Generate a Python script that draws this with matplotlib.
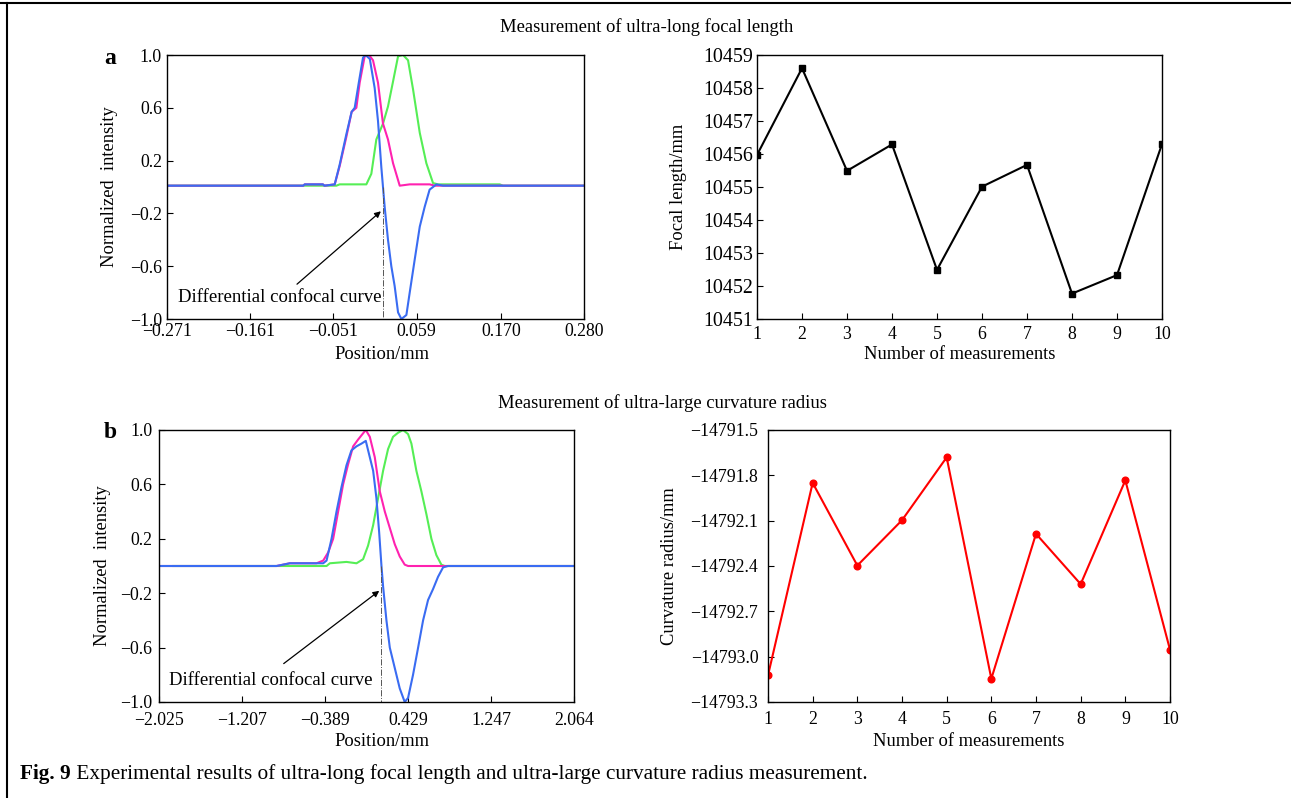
import matplotlib
matplotlib.use("Agg")
import matplotlib.pyplot as plt
from matplotlib.lines import Line2D
from matplotlib.text import Annotation

plt.rcParams['font.family'] = ['Liberation Serif', 'DejaVu Serif']
plt.rcParams['font.size'] = 13
plt.rcParams['axes.linewidth'] = 1.0

# --- (a) focal length: confocal scans across the focus ---
a_pre_x = [-0.271, -0.091, -0.089, -0.065, -0.063, -0.0494, -0.0428, -0.034, -0.027,
           -0.0208, -0.0164, -0.0098, -0.004, 0.0012, 0.0078, 0.0144, 0.021, 0.0277,
           0.0365, 0.0497, 0.076, 0.083, 0.280]
a_pre_y = [0.01, 0.01, 0.02, 0.02, 0.01, 0.02, 0.16, 0.38, 0.57,
           0.60, 0.79, 0.99, 1.00, 0.96, 0.79, 0.48, 0.36, 0.18,
           0.01, 0.02, 0.02, 0.01, 0.01]
a_post_x = [-0.271, -0.0472, -0.0428, -0.0076, -0.001, 0.0056, 0.0144, 0.021, 0.0277,
            0.0343, 0.0409, 0.0475, 0.0541, 0.063, 0.0717, 0.0805, 0.087, 0.1686,
            0.173, 0.280]
a_post_y = [0.01, 0.01, 0.02, 0.02, 0.10, 0.36, 0.48, 0.61, 0.80,
            0.99, 1.00, 0.96, 0.74, 0.41, 0.18, 0.03, 0.02, 0.02,
            0.01, 0.01]
a_diff_x = [-0.271, -0.091, -0.089, -0.065, -0.063, -0.0494, -0.0428, -0.034, -0.027,
            -0.023, -0.0173, -0.012, -0.0086, -0.003, 0.0034, 0.0078, 0.0122, 0.0144,
            0.0166, 0.021, 0.0254, 0.0298, 0.0343, 0.0387, 0.0453, 0.0497, 0.0563,
            0.063, 0.0695, 0.076, 0.085, 0.0937, 0.280]
a_diff_y = [0.01, 0.01, 0.02, 0.02, 0.01, 0.02, 0.17, 0.40, 0.57,
            0.60, 0.80, 0.98, 1.00, 0.97, 0.75, 0.50, 0.15, 0.00,
            -0.15, -0.40, -0.60, -0.75, -0.95, -1.00, -0.97, -0.80, -0.55,
            -0.30, -0.15, -0.02, 0.02, 0.01, 0.01]
a_zero = 0.0144
a_xticks = [-0.271, -0.161, -0.051, 0.059, 0.170, 0.280]
a_xlabels = ["\u22120.271", "\u22120.161", "\u22120.051", "0.059", "0.170", "0.280"]

# --- (b) curvature radius: confocal scans across the focus ---
b_pre_x = [-2.025, -0.867, -0.736, -0.473, -0.407, -0.358, -0.309, -0.26, -0.211,
           -0.161, -0.112, -0.063, -0.02, 0.0125, 0.052, 0.101, 0.15, 0.2, 0.249,
           0.298, 0.347, 0.396, 0.429, 2.064]
b_pre_y = [0.0, 0.0, 0.02, 0.02, 0.04, 0.10, 0.20, 0.40, 0.60,
           0.75, 0.88, 0.93, 0.97, 1.00, 0.95, 0.80, 0.55, 0.40, 0.28,
           0.16, 0.07, 0.01, 0.0, 0.0]
b_post_x = [-1.884, -0.867, -0.374, -0.342, -0.178, -0.079, -0.014, 0.035, 0.085,
            0.134, 0.183, 0.232, 0.281, 0.331, 0.38, 0.429, 0.462, 0.511, 0.56,
            0.61, 0.659, 0.708, 0.757, 0.79, 2.064]
b_post_y = [0.0, 0.0, 0.0, 0.02, 0.03, 0.02, 0.05, 0.15, 0.30,
            0.50, 0.70, 0.86, 0.95, 0.98, 1.00, 0.97, 0.90, 0.70, 0.55,
            0.38, 0.20, 0.08, 0.01, 0.0, 0.0]
b_diff_x = [-2.025, -0.867, -0.736, -0.473, -0.407, -0.374, -0.325, -0.276, -0.227,
            -0.178, -0.129, -0.079, -0.03, 0.0125, 0.052, 0.085, 0.117, 0.144,
            0.167, 0.183, 0.216, 0.249, 0.298, 0.347, 0.396, 0.429, 0.478, 0.528,
            0.577, 0.626, 0.675, 0.724, 0.774, 0.823, 2.064]
b_diff_y = [0.0, 0.0, 0.02, 0.02, 0.02, 0.04, 0.20, 0.40, 0.58,
            0.74, 0.85, 0.88, 0.90, 0.92, 0.80, 0.70, 0.50, 0.25,
            0.0, -0.15, -0.40, -0.60, -0.75, -0.90, -1.00, -0.97, -0.80, -0.60,
            -0.40, -0.25, -0.17, -0.08, -0.01, 0.0, 0.0]
b_zero = 0.167
b_xticks = [-2.025, -1.207, -0.389, 0.429, 1.247, 2.064]
b_xlabels = ["\u22122.025", "\u22121.207", "\u22120.389", "0.429", "1.247", "2.064"]

scan_yticks = [-1.0, -0.6, -0.2, 0.2, 0.6, 1.0]
scan_ylabels = ["\u22121.0", "\u22120.6", "\u22120.2", "0.2", "0.6", "1.0"]

# --- repeated measurements ---
runs = [1, 2, 3, 4, 5, 6, 7, 8, 9, 10]
focal_length = [10455.97, 10458.60, 10455.49, 10456.29, 10452.49,
                10455.01, 10455.67, 10451.77, 10452.33, 10456.30]
focal_yticks = [10451, 10452, 10453, 10454, 10455, 10456, 10457, 10458, 10459]
radius = [-14793.124, -14791.850, -14792.397, -14792.097, -14791.681,
          -14793.146, -14792.187, -14792.520, -14791.833, -14792.954]
radius_yticks = [-14793.3, -14793.0, -14792.7, -14792.4, -14792.1, -14791.8, -14791.5]
radius_ylabels = ["\u221214793.3", "\u221214793.0", "\u221214792.7", "\u221214792.4",
                  "\u221214792.1", "\u221214791.8", "\u221214791.5"]

MAGENTA = '#ff22b0'
GREEN = '#55ee55'
BLUE = '#3a6cf2'
TICK_FS = 12.8
LABEL_FS = 13.3

W, H = 1291, 798
fig = plt.figure(figsize=(W / 100, H / 100), dpi=100)


def box(l, t, r, b):
    return [l / W, 1 - b / H, (r - l) / W, (b - t) / H]


ax_a = fig.add_axes(box(167, 55, 584, 319))
ax_fl = fig.add_axes(box(757, 55, 1162, 319))
ax_b = fig.add_axes(box(159, 430, 574, 702))
ax_cr = fig.add_axes(box(768, 430, 1170, 702))

for ax in (ax_a, ax_fl, ax_b, ax_cr):
    ax.tick_params(direction='in', length=4, width=0.8, labelsize=TICK_FS)


def place_labels(ax, xlab, ylab, xpos, ypos):
    ax.set_xlabel(xlab, fontsize=LABEL_FS, va='center')
    ax.set_ylabel(ylab, fontsize=LABEL_FS, va='center')
    ax.xaxis.set_label_coords(*xpos)
    ax.yaxis.set_label_coords(*ypos)


def scan_panel(ax, pre, post, diff, zero, xticks, xlabels, arrow_tail, text_pos):
    ax.plot(post[0], post[1], color=GREEN, lw=1.5)
    ax.plot(pre[0], pre[1], color=MAGENTA, lw=1.5)
    ax.plot(diff[0], diff[1], color=BLUE, lw=1.5)
    ax.plot([zero, zero], [0.0, -1.0], color='#555555', lw=0.7, ls='-.')
    ax.annotate('', xy=(zero, -0.17), xytext=arrow_tail,
                arrowprops=dict(arrowstyle='-|>', color='black', lw=0.9,
                                mutation_scale=9))
    ax.text(text_pos[0], text_pos[1], 'Differential confocal curve', fontsize=13.5,
            va='center', ha='left')
    ax.set_xlim(xticks[0], xticks[-1])
    ax.set_ylim(-1.0, 1.0)
    ax.set_xticks(xticks)
    ax.set_xticklabels(xlabels)
    ax.set_yticks(scan_yticks)
    ax.set_yticklabels(scan_ylabels)


scan_panel(ax_a, (a_pre_x, a_pre_y), (a_post_x, a_post_y), (a_diff_x, a_diff_y),
           a_zero, a_xticks, a_xlabels, (-0.102, -0.75), (-0.2565, -0.84))
ax_a.tick_params(axis='x', pad=3.2)
ax_a.tick_params(axis='y', pad=3.6)
place_labels(ax_a, 'Position/mm', 'Normalized  intensity', (0.515, -0.136), (-0.137, 0.5))

scan_panel(ax_b, (b_pre_x, b_pre_y), (b_post_x, b_post_y), (b_diff_x, b_diff_y),
           b_zero, b_xticks, b_xlabels, (-0.818, -0.73), (-1.927, -0.84))
ax_b.tick_params(axis='x', pad=7)
ax_b.tick_params(axis='y', pad=5)
place_labels(ax_b, 'Position/mm', 'Normalized  intensity', (0.537, -0.147), (-0.137, 0.5))

ax_fl.plot(runs, focal_length, color='black', lw=1.5, marker='s', ms=4.2)
ax_fl.set_xlim(1, 10)
ax_fl.set_ylim(10451, 10459)
ax_fl.set_xticks(runs)
ax_fl.set_yticks(focal_yticks)
ax_fl.set_yticklabels([str(v) for v in focal_yticks])
ax_fl.tick_params(axis='x', pad=5)
ax_fl.tick_params(axis='y', pad=3, labelsize=14.4)
place_labels(ax_fl, 'Number of measurements', 'Focal length/mm', (0.5, -0.136), (-0.195, 0.5))

ax_cr.plot(runs, radius, color='#ff0000', lw=1.5, marker='o', ms=4.8)
ax_cr.set_xlim(1, 10)
ax_cr.set_ylim(-14793.3, -14791.5)
ax_cr.set_xticks(runs)
ax_cr.set_yticks(radius_yticks)
ax_cr.set_yticklabels(radius_ylabels)
ax_cr.tick_params(axis='x', pad=6.5)
ax_cr.tick_params(axis='y', pad=7)
place_labels(ax_cr, 'Number of measurements', 'Curvature radius/mm', (0.5, -0.147), (-0.244, 0.5))

# section headings and panel letters
fig.text(647 / W, 1 - 27 / H, 'Measurement of ultra-long focal length',
         ha='center', va='center', fontsize=13.4)
fig.text(662 / W, 1 - 403 / H, 'Measurement of ultra-large curvature radius',
         ha='center', va='center', fontsize=13.4)
fig.text(110 / W, 1 - 58 / H, 'a', ha='center', va='center', fontsize=17,
         fontweight='bold')
fig.text(110 / W, 1 - 432 / H, 'b', ha='center', va='center', fontsize=17,
         fontweight='bold')

# caption
cap = fig.text(20 / W, 1 - 774 / H, 'Fig. 9', ha='left', va='center', fontsize=15.3,
               fontweight='bold')
fig.add_artist(Annotation(' Experimental results of ultra-long focal length and '
                          'ultra-large curvature radius measurement.',
                          xy=(1, 0), xycoords=cap, va='bottom', ha='left',
                          fontsize=15.3))

# frame lines along the top and left edges
fig.add_artist(Line2D([0, 1], [1 - 3 / H, 1 - 3 / H], color='black', lw=1.5))
fig.add_artist(Line2D([7 / W, 7 / W], [0, 1 - 3 / H], color='black', lw=1.5))

fig.savefig('out.png', dpi=100)
